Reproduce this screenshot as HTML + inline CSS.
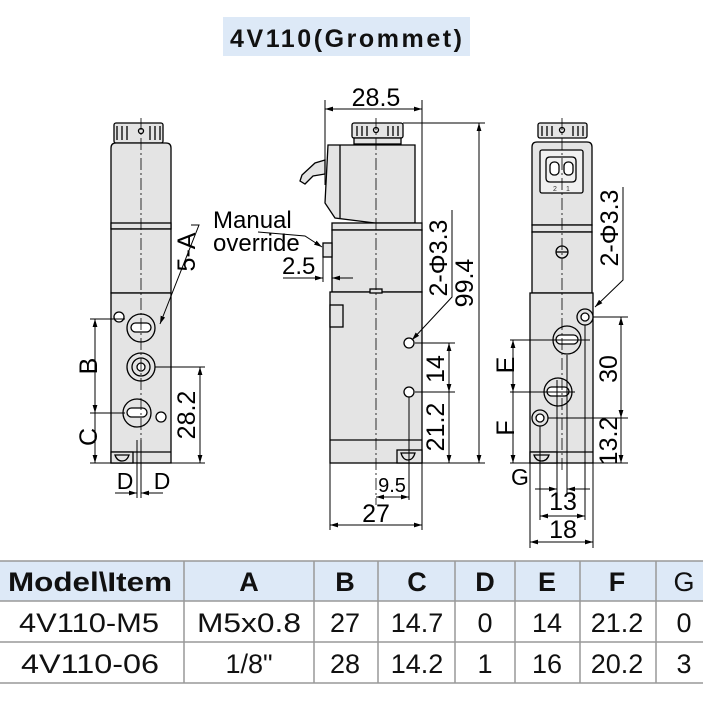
<!DOCTYPE html>
<html><head><meta charset="utf-8"><style>
body{margin:0;background:#fff;}
svg{display:block;font-family:"Liberation Sans",sans-serif;}
</style></head><body>
<svg width="703" height="706" viewBox="0 0 703 706" xmlns="http://www.w3.org/2000/svg">
<defs>
<marker id="a" viewBox="0 0 10 10" refX="10" refY="5" markerWidth="8" markerHeight="8" orient="auto-start-reverse"><path d="M0,2 L10,5 L0,8 z" fill="#000"/></marker>
</defs>
<rect x="223" y="17" width="247" height="39" fill="#dde9f7"/>
<text x="346" y="47" font-size="25" font-weight="bold" text-anchor="middle" fill="#111" textLength="232">4V110(Grommet)</text>

<g stroke="#000" stroke-width="1.3" fill="#e4e4e4">
<rect x="114" y="123" width="49" height="20" rx="2"/>
<path d="M117,126 v14 M122,126 v14 M127,126 v14 M150,126 v14 M155,126 v14 M160,126 v14" fill="none"/>
<circle cx="141" cy="131" r="2.5" fill="none"/>
<path d="M111,148 q0,-5 5,-5 h50 q5,0 5,5 v80 h-60 z"/>
<rect x="111" y="223" width="60" height="6"/>
<rect x="111" y="229" width="60" height="64"/>
<rect x="111" y="293" width="60" height="170"/>
<line x1="111" y1="452" x2="171" y2="452"/>
<rect x="111" y="452" width="22" height="11"/>
<path d="M115,455 h14 q-2,6 -7,6 q-5,0 -7,-6z" fill="none"/>
<circle cx="141" cy="328" r="14"/><rect x="131" y="323" width="20" height="9" rx="4.5" fill="#fff"/>
<circle cx="141" cy="367" r="14"/><circle cx="141" cy="367" r="9" fill="none"/><circle cx="141" cy="367" r="4" fill="#fff"/>
<circle cx="137" cy="413" r="14"/><rect x="127" y="408" width="20" height="9" rx="4.5" fill="#fff"/>
<circle cx="119" cy="317" r="5" fill="#fff"/><circle cx="161" cy="417" r="5" fill="#fff"/>

<rect x="352" y="123" width="51" height="15" rx="2"/>
<path d="M357,126 v10 M362,126 v10 M367,126 v10 M388,126 v10 M393,126 v10 M398,126 v10" fill="none"/>
<circle cx="376" cy="130" r="2.5" fill="none"/>
<rect x="354" y="138" width="47" height="6"/>
<path d="M328,145 h87 v78 h-40 l-40,-5 l-10,-15 z"/>
<line x1="340" y1="145" x2="340" y2="218"/>
<path d="M325,160 l-10,3 l-13,12 l-2,6 l5,3 l8,-8 l12,-2 z"/>
<rect x="332" y="223" width="90" height="7"/>
<rect x="332" y="230" width="90" height="62"/>
<rect x="323" y="243" width="9" height="14"/>
<rect x="330" y="292" width="92" height="171"/>
<rect x="330" y="305" width="13" height="22"/>
<rect x="370" y="289" width="12" height="4"/>
<line x1="330" y1="440" x2="422" y2="440"/>
<rect x="397" y="450" width="25" height="13"/>
<path d="M401,453 h14 q-2,7 -7,7 q-5,0 -7,-7z" fill="none"/>
<circle cx="409" cy="343" r="5" fill="#fff"/><circle cx="409" cy="392" r="5" fill="#fff"/>

<rect x="538" y="123" width="49" height="15" rx="2"/>
<path d="M542,126 v10 M547,126 v10 M552,126 v10 M573,126 v10 M578,126 v10 M583,126 v10" fill="none"/>
<circle cx="562" cy="130" r="2.5" fill="none"/>
<path d="M532,147 q0,-5 5,-5 h50 q5,0 5,5 v78 h-60 z"/>
<rect x="540" y="150" width="43" height="43" rx="2" fill="#f0f0f0"/>
<path d="M546,161 q0,-4 4,-4 h22 q4,0 4,4 v17 q0,4 -4,4 h-22 q-4,0 -4,-4z" fill="none"/>
<rect x="550" y="162" width="9" height="13" rx="4" fill="#fff"/><rect x="564" y="162" width="9" height="13" rx="4" fill="#fff"/>
<rect x="532" y="225" width="60" height="7"/>
<rect x="532" y="232" width="60" height="61"/>
<circle cx="562" cy="252" r="6"/><line x1="556" y1="252" x2="568" y2="252"/>
<rect x="530" y="293" width="63" height="170"/>
<line x1="530" y1="452" x2="593" y2="452"/>
<rect x="530" y="452" width="27" height="11"/>
<path d="M534,455 h15 q-2,6 -7.5,6 q-5.5,0 -7.5,-6z" fill="none"/>
<circle cx="585" cy="317" r="8"/><circle cx="585" cy="317" r="4" fill="#fff"/>
<circle cx="567" cy="340" r="14"/><rect x="556" y="335" width="22" height="9" rx="4.5" fill="#fff"/>
<circle cx="558" cy="392" r="14"/><rect x="547" y="387" width="22" height="9" rx="4.5" fill="#fff"/>
<circle cx="540" cy="418" r="8"/><circle cx="540" cy="418" r="4" fill="#fff"/>
</g>
<text x="553" y="191" font-size="7" fill="#333">2</text><text x="566" y="191" font-size="7" fill="#333">1</text>

<g stroke="#000" stroke-width="0.8" stroke-dasharray="12,3,2,3" fill="none">
<line x1="141" y1="118" x2="141" y2="470"/>
<line x1="376" y1="118" x2="376" y2="505"/>
<line x1="562" y1="118" x2="562" y2="470"/>
</g>

<g stroke="#000" stroke-width="1" fill="none">
<line x1="90" y1="319" x2="125" y2="319"/><line x1="90" y1="413" x2="125" y2="413"/>
<line x1="90" y1="463" x2="205" y2="463"/><line x1="155" y1="367" x2="205" y2="367"/>
<line x1="95" y1="319" x2="95" y2="413" marker-start="url(#a)" marker-end="url(#a)"/>
<line x1="95" y1="413" x2="95" y2="463" marker-end="url(#a)"/>
<line x1="200" y1="367" x2="200" y2="463" marker-start="url(#a)" marker-end="url(#a)"/>
<line x1="137" y1="440" x2="137" y2="498"/><line x1="141" y1="440" x2="141" y2="498"/>
<line x1="115" y1="493" x2="137" y2="493" marker-end="url(#a)"/><line x1="163" y1="493" x2="141" y2="493" marker-end="url(#a)"/>
<polyline points="191,225 199,225 160,324" marker-end="url(#a)"/>
<line x1="325" y1="100" x2="325" y2="185"/><line x1="422" y1="100" x2="422" y2="223"/>
<line x1="325" y1="109" x2="422" y2="109" marker-start="url(#a)" marker-end="url(#a)"/>
<line x1="403" y1="123" x2="485" y2="123"/><line x1="422" y1="463" x2="485" y2="463"/>
<line x1="479" y1="123" x2="479" y2="463" marker-start="url(#a)" marker-end="url(#a)"/>
<line x1="415" y1="343" x2="455" y2="343"/><line x1="415" y1="392" x2="455" y2="392"/>
<line x1="449" y1="343" x2="449" y2="392" marker-start="url(#a)" marker-end="url(#a)"/>
<line x1="449" y1="392" x2="449" y2="463" marker-end="url(#a)"/>
<polyline points="452,210 452,297 412,340" marker-end="url(#a)"/>
<line x1="283" y1="278" x2="323" y2="278" marker-end="url(#a)"/><line x1="353" y1="278" x2="332" y2="278" marker-end="url(#a)"/>
<line x1="332" y1="257" x2="332" y2="282"/><line x1="323" y1="257" x2="323" y2="282"/>
<polyline points="258,232 305,236 322,247" marker-end="url(#a)"/>
<line x1="409" y1="397" x2="409" y2="500"/>
<line x1="376" y1="497" x2="409" y2="497" marker-start="url(#a)" marker-end="url(#a)"/>
<line x1="330" y1="463" x2="330" y2="530"/><line x1="422" y1="463" x2="422" y2="530"/>
<line x1="330" y1="525" x2="422" y2="525" marker-start="url(#a)" marker-end="url(#a)"/>
<line x1="510" y1="340" x2="590" y2="340"/><line x1="510" y1="392" x2="575" y2="392"/>
<line x1="513" y1="340" x2="513" y2="392" marker-start="url(#a)" marker-end="url(#a)"/>
<line x1="513" y1="392" x2="513" y2="463" marker-end="url(#a)"/>
<line x1="510" y1="463" x2="628" y2="463"/>
<line x1="593" y1="317" x2="628" y2="317"/><line x1="548" y1="418" x2="628" y2="418"/>
<line x1="621" y1="317" x2="621" y2="418" marker-start="url(#a)" marker-end="url(#a)"/>
<line x1="621" y1="418" x2="621" y2="463" marker-end="url(#a)"/>
<polyline points="623,187 623,280 595,307" marker-end="url(#a)"/>
<line x1="540" y1="426" x2="540" y2="520"/><line x1="557" y1="380" x2="557" y2="495"/><line x1="567" y1="355" x2="567" y2="495"/><line x1="585" y1="325" x2="585" y2="520"/>
<line x1="530" y1="463" x2="530" y2="548"/><line x1="593" y1="463" x2="593" y2="548"/>
<line x1="535" y1="489" x2="557" y2="489" marker-end="url(#a)"/><line x1="590" y1="489" x2="567" y2="489" marker-end="url(#a)"/>
<line x1="540" y1="516" x2="585" y2="516" marker-start="url(#a)" marker-end="url(#a)"/>
<line x1="530" y1="542" x2="593" y2="542" marker-start="url(#a)" marker-end="url(#a)"/>
</g>

<g font-size="25" fill="#000">
<text x="376" y="106" text-anchor="middle">28.5</text>
<text x="213" y="228" font-size="24">Manual</text>
<text x="213" y="251" font-size="24">override</text>
<text x="282" y="274" font-size="24">2.5</text>
<text x="392" y="492" text-anchor="middle" font-size="20">9.5</text>
<text x="376" y="522" text-anchor="middle">27</text>
<text x="125" y="489" text-anchor="middle" font-size="23">D</text>
<text x="162" y="489" text-anchor="middle" font-size="23">D</text>
<text x="520" y="485" text-anchor="middle" font-size="23">G</text>
<text x="563" y="510" text-anchor="middle">13</text>
<text x="563" y="538" text-anchor="middle">18</text>
<text transform="translate(97,366) rotate(-90)" text-anchor="middle">B</text>
<text transform="translate(97,437) rotate(-90)" text-anchor="middle">C</text>
<text transform="translate(195,415) rotate(-90)" text-anchor="middle">28.2</text>
<text transform="translate(195,252) rotate(-90)" text-anchor="middle">5-A</text>
<text transform="translate(447,258) rotate(-90)" text-anchor="middle">2-Φ3.3</text>
<text transform="translate(473,283) rotate(-90)" text-anchor="middle">99.4</text>
<text transform="translate(444,369) rotate(-90)" text-anchor="middle">14</text>
<text transform="translate(444,427) rotate(-90)" text-anchor="middle">21.2</text>
<text transform="translate(514,365) rotate(-90)" text-anchor="middle">E</text>
<text transform="translate(514,428) rotate(-90)" text-anchor="middle">F</text>
<text transform="translate(618,228) rotate(-90)" text-anchor="middle">2-Φ3.3</text>
<text transform="translate(617,369) rotate(-90)" text-anchor="middle">30</text>
<text transform="translate(617,441) rotate(-90)" text-anchor="middle">13.2</text>
</g>

<rect x="0" y="561" width="703" height="40" fill="#dde9f7"/>
<g stroke="#999" stroke-width="1.5">
<line x1="0" y1="561" x2="703" y2="561"/><line x1="0" y1="601" x2="703" y2="601"/>
<line x1="0" y1="642" x2="703" y2="642"/><line x1="0" y1="683" x2="703" y2="683"/>
<line x1="184" y1="561" x2="184" y2="683"/><line x1="314" y1="561" x2="314" y2="683"/>
<line x1="378" y1="561" x2="378" y2="683"/><line x1="455" y1="561" x2="455" y2="683"/>
<line x1="515" y1="561" x2="515" y2="683"/><line x1="580" y1="561" x2="580" y2="683"/>
<line x1="656" y1="561" x2="656" y2="683"/>
</g>
<g font-size="27" fill="#111" text-anchor="middle">
<g font-weight="bold">
<text x="90" y="591" textLength="164" lengthAdjust="spacingAndGlyphs">Model\Item</text>
<text x="249" y="591">A</text><text x="345" y="591">B</text><text x="417" y="591">C</text>
<text x="485" y="591">D</text><text x="547" y="591">E</text><text x="617" y="591">F</text>
</g>
<text x="684" y="591">G</text>
<text x="89" y="632" textLength="140" lengthAdjust="spacingAndGlyphs">4V110-M5</text><text x="249" y="632" textLength="104" lengthAdjust="spacingAndGlyphs">M5x0.8</text><text x="345" y="632">27</text>
<text x="417" y="632">14.7</text><text x="485" y="632">0</text><text x="547" y="632">14</text>
<text x="617" y="632">21.2</text><text x="684" y="632">0</text>
<text x="90" y="673" textLength="138" lengthAdjust="spacingAndGlyphs">4V110-06</text><text x="249" y="673">1/8"</text><text x="345" y="673">28</text>
<text x="417" y="673">14.2</text><text x="485" y="673">1</text><text x="547" y="673">16</text>
<text x="617" y="673">20.2</text><text x="684" y="673">3</text>
</g>
</svg>
</body></html>
